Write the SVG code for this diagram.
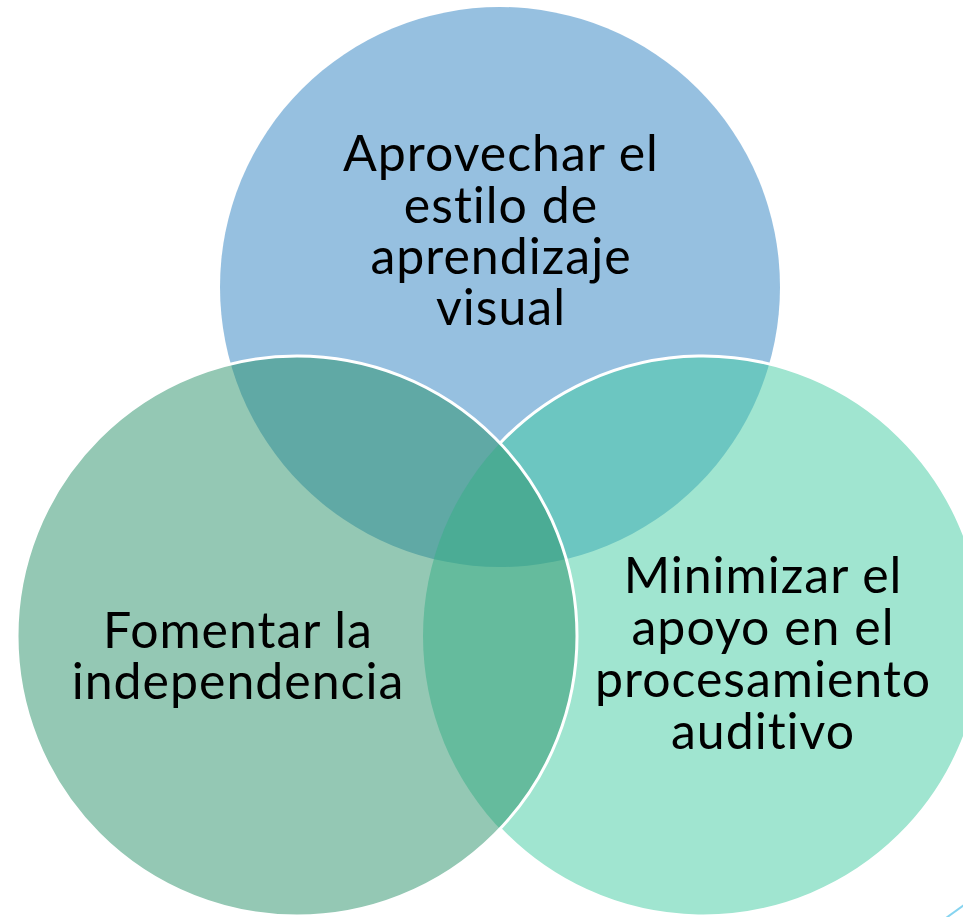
<svg xmlns="http://www.w3.org/2000/svg" width="963" height="917" viewBox="0 0 963 917">
  <style>
    .lbl { font-family: Lato, "Open Sans", "DejaVu Sans", sans-serif; font-size: 50px; letter-spacing: 1px; font-variant-ligatures: none; font-feature-settings: "liga" 0; fill: #000; text-anchor: middle; }
    .edge { fill: none; stroke: #fff; stroke-width: 3; }
  </style>
  <rect width="963" height="917" fill="#fff"/>
  <g id="node-top">
    <circle cx="500" cy="287" r="280" fill="rgb(45,129,193)" fill-opacity="0.5"/>
    <text class="lbl" x="501" y="171">Aprovechar el</text>
    <text class="lbl" x="501" y="223">estilo de</text>
    <text class="lbl" x="501" y="274">aprendizaje</text>
    <text class="lbl" x="501" y="325">visual</text>
  </g>
  <g id="node-right">
    <circle cx="703" cy="636" r="280" fill="rgb(65,203,161)" fill-opacity="0.5"/>
    <path class="edge" d="M500,443.2 A280,280 0 1 1 500,828.8"/>
    <text class="lbl" x="763" y="593">Minimizar el</text>
    <text class="lbl" x="763" y="645">apoyo en el</text>
    <text class="lbl" x="763" y="697">procesamiento</text>
    <text class="lbl" x="763" y="749">auditivo</text>
  </g>
  <g id="node-left">
    <circle cx="297" cy="636" r="280" fill="rgb(41,145,105)" fill-opacity="0.5" stroke="#fff" stroke-width="3"/>
    <text class="lbl" x="238" y="648">Fomentar la</text>
    <text class="lbl" x="238" y="699">independencia</text>
  </g>
  <g id="connectors"/>
  <line x1="946" y1="918" x2="964" y2="905" stroke="#86D4F0" stroke-width="2"/>
</svg>
